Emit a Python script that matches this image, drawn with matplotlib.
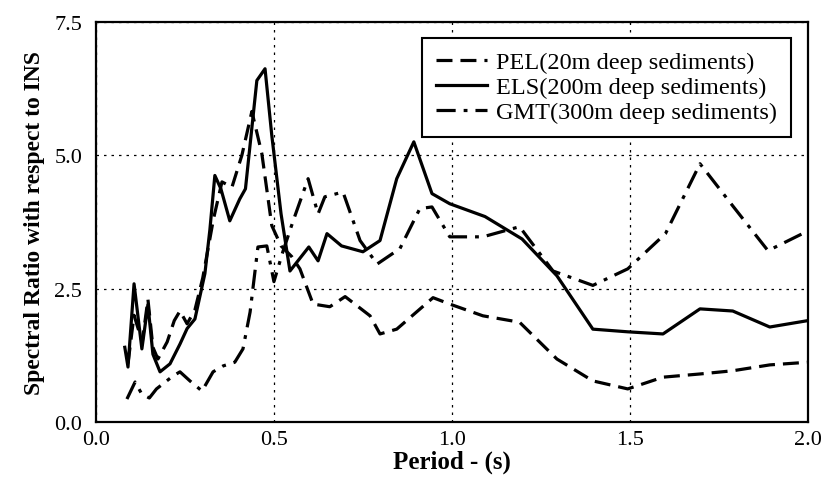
import matplotlib
matplotlib.use('Agg')
import matplotlib.pyplot as plt

# spectral ratio curves
pel_period = [0.09, 0.107, 0.13, 0.146, 0.16, 0.174, 0.2, 0.22, 0.236, 0.256, 0.278, 0.3, 0.33,
              0.354, 0.382, 0.41, 0.438, 0.466, 0.494, 0.52, 0.55, 0.573, 0.61, 0.657, 0.70,
              0.77, 0.798, 0.845, 0.947, 0.994, 1.087, 1.19, 1.295, 1.396, 1.494, 1.593,
              1.697, 1.789, 1.893, 2.0]
pel_ratio = [1.1, 2.0, 1.5, 2.3, 1.4, 1.18, 1.5, 1.9, 2.08, 1.84, 2.1, 2.7, 3.8,
             4.5, 4.4, 5.0, 5.82, 5.03, 3.68, 3.3, 3.1, 2.87, 2.21, 2.16, 2.35,
             1.99, 1.65, 1.74, 2.33, 2.21, 1.99, 1.87, 1.18, 0.77, 0.62, 0.84,
             0.9, 0.96, 1.07, 1.12]

els_period = [0.081, 0.09, 0.107, 0.129, 0.146, 0.16, 0.18, 0.208, 0.236, 0.256, 0.278, 0.306,
              0.32, 0.334, 0.351, 0.376, 0.404, 0.42, 0.452, 0.475, 0.494, 0.52, 0.545,
              0.598, 0.624, 0.649, 0.69, 0.75, 0.798, 0.845, 0.893, 0.944, 0.994, 1.093,
              1.197, 1.295, 1.396, 1.494, 1.593, 1.697, 1.789, 1.893, 2.0]
els_ratio = [1.4, 1.03, 2.59, 1.37, 2.2, 1.27, 0.94, 1.09, 1.46, 1.75, 1.93, 2.78,
             3.6, 4.62, 4.37, 3.77, 4.18, 4.37, 6.4, 6.62, 5.37, 3.9, 2.83,
             3.28, 3.02, 3.53, 3.3, 3.19, 3.4, 4.56, 5.25, 4.28, 4.09, 3.85,
             3.43, 2.74, 1.74, 1.69, 1.65, 2.12, 2.08, 1.78, 1.9]

gmt_period = [0.087, 0.11, 0.129, 0.15, 0.17, 0.216, 0.236, 0.264, 0.298, 0.329, 0.357, 0.39,
              0.413, 0.433, 0.455, 0.48, 0.50, 0.525, 0.553, 0.596, 0.624, 0.643, 0.694,
              0.742, 0.79, 0.854, 0.91, 0.944, 0.994, 1.087, 1.19, 1.284, 1.396, 1.494,
              1.6, 1.697, 1.789, 1.888, 2.0]
gmt_ratio = [0.43, 0.75, 0.52, 0.45, 0.62, 0.86, 0.94, 0.77, 0.58, 0.94, 1.05, 1.12,
             1.37, 2.06, 3.28, 3.3, 2.63, 3.19, 3.75, 4.56, 3.9, 4.22, 4.31,
             3.4, 2.96, 3.25, 4.0, 4.03, 3.47, 3.47, 3.66, 2.83, 2.56, 2.87,
             3.53, 4.84, 4.05, 3.21, 3.58]

x_ticks = [0.0, 0.5, 1.0, 1.5, 2.0]
y_ticks = [0.0, 2.5, 5.0, 7.5]

plt.rcParams['font.family'] = 'Liberation Serif'

fig = plt.figure(figsize=(8.23, 4.81), dpi=100)
ax = fig.add_axes([0.1166, 0.1206, 0.865, 0.832])

ax.plot(pel_period, pel_ratio, color='black', lw=2.3, dashes=(5, 2.5),
        label='PEL(20m deep sediments)')
ax.plot(els_period, els_ratio, color='black', lw=2.3, label='ELS(200m deep sediments)')
ax.plot(gmt_period, gmt_ratio, color='black', lw=2.3, dashes=(6, 2.5, 1.2, 2.5),
        label='GMT(300m deep sediments)')

ax.set_xlim(0, 2.0)
ax.set_ylim(0, 7.5)
ax.set_xticks(x_ticks)
ax.set_yticks(y_ticks)
ax.set_xticklabels(['%.1f' % t for t in x_ticks], fontsize=16)
ax.set_yticklabels(['%.1f' % t for t in y_ticks], fontsize=16)
ax.tick_params(length=0)
ax.tick_params(axis='x', pad=6)
ax.tick_params(axis='y', pad=10)
ax.grid(True, color='black', ls=(0, (2, 4)), lw=0.9)
for s in ax.spines.values():
    s.set_linewidth(1.6)

ax.set_xlabel('Period - (s)', fontsize=18, fontweight='bold', labelpad=0)
ax.set_ylabel('Spectral Ratio with respect to INS', fontsize=17, fontweight='bold')
ax.yaxis.set_label_coords(-0.072, 0.5)

leg = ax.legend(loc='upper right', fontsize=17.5, frameon=True, fancybox=False,
                edgecolor='black', framealpha=1, handlelength=2.1, handletextpad=0.4,
                borderpad=0.55, labelspacing=0.12, bbox_to_anchor=(0.993, 0.99))
leg.get_frame().set_linewidth(1.5)

plt.savefig('out.png', dpi=100)
